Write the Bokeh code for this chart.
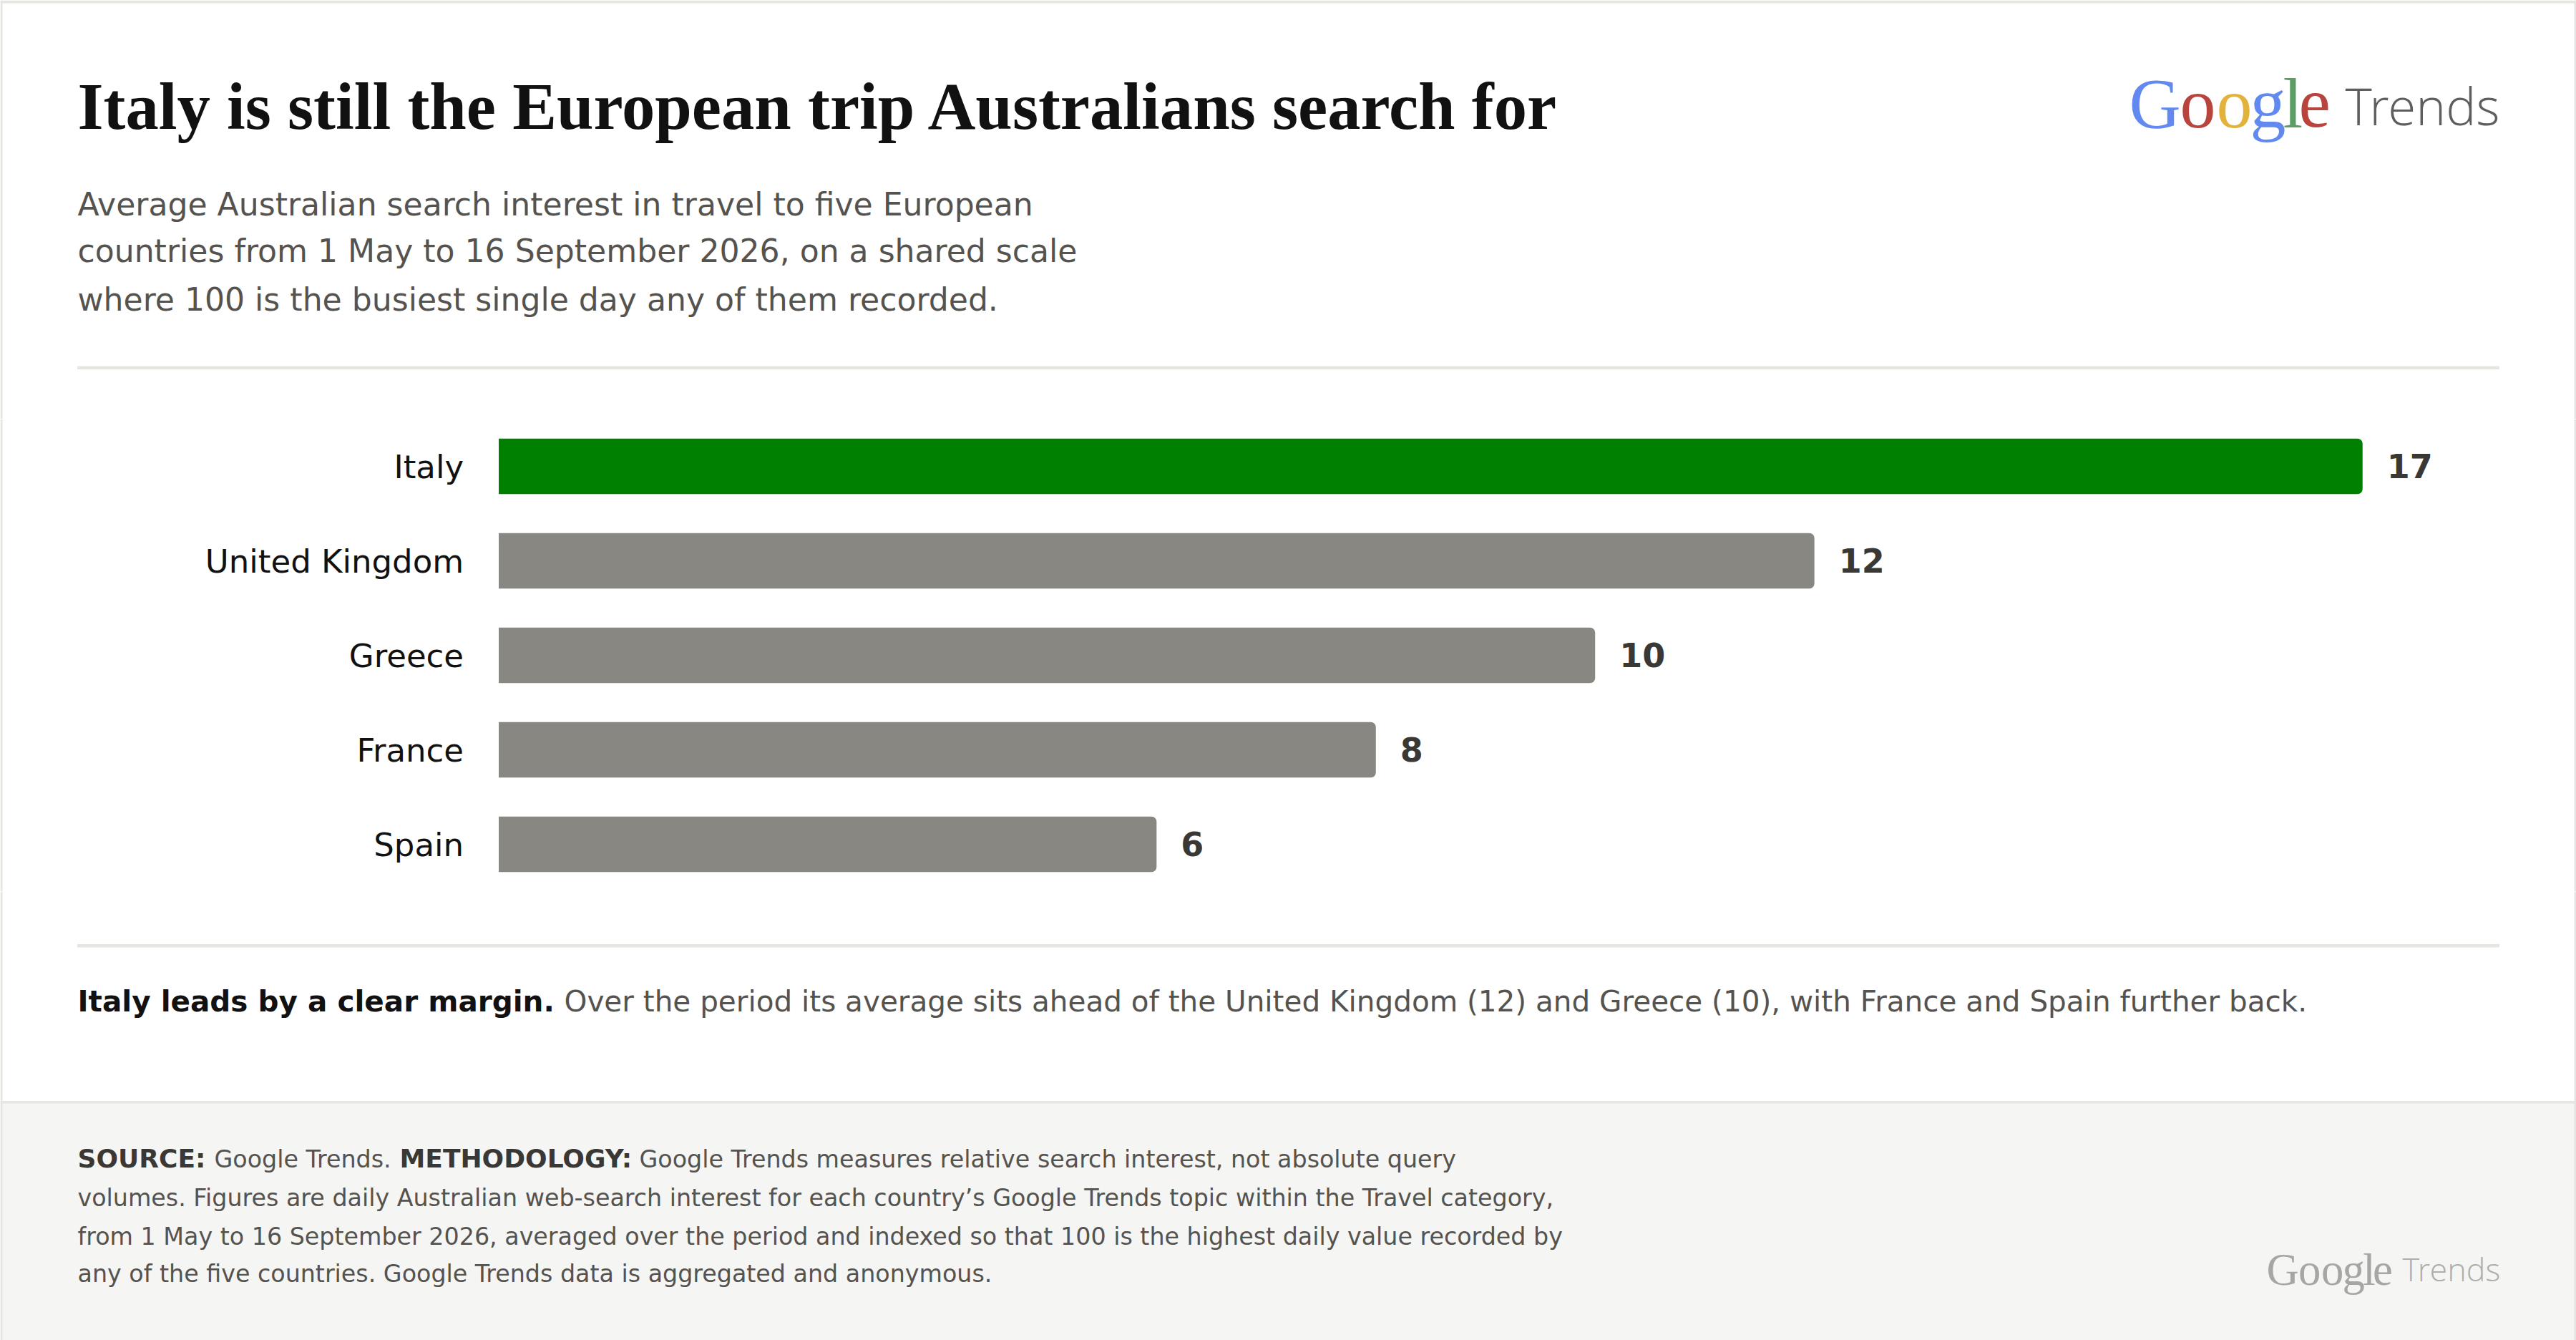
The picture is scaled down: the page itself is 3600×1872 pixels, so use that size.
from bokeh.core.properties import value
from bokeh.embed import file_html
from bokeh.layouts import column
from bokeh.models import ColumnDataSource, FactorRange, Range1d
from bokeh.plotting import figure
from bokeh.resources import INLINE

countries = ["Italy", "United Kingdom", "Greece", "France", "Spain"]
interest = [17, 12, 10, 8, 6]
bar_colors = ["#008000", "#898781", "#898781", "#898781", "#898781"]

title = "Italy is still the European trip Australians search for"
subtitle = [
    "Average Australian search interest in travel to five European",
    "countries from 1 May to 16 September 2026, on a shared scale",
    "where 100 is the busiest single day any of them recorded.",
]
finding_bold = "Italy leads by a clear margin."
finding = "Over the period its average sits ahead of the United Kingdom (12) and Greece (10), with France and Spain further back."
footer_lines = [
    "volumes. Figures are daily Australian web-search interest for each country\u2019s Google Trends topic within the Travel category,",
    "from 1 May to 16 September 2026, averaged over the period and indexed so that 100 is the highest daily value recorded by",
    "any of the five countries. Google Trends data is aggregated and anonymous.",
]

SANS = "DejaVu Sans"
SERIF = "Liberation Serif"
RULE = "#e6e6e1"

logo_letters = list("Google")
logo_advance = [0.71, 0.51, 0.47, 0.46, 0.22, 0.44]
logo_colors = ["#6189f0", "#b9443e", "#e3b23c", "#6189f0", "#5a9e63", "#b9443e"]


def put_text(p, x, y, text, size, color, font=SANS, style="normal"):
    # svg text lands about 0.35 of its size below the asked baseline
    p.text(x=[x], y=[y - 0.35 * size], text=[text], text_font=value(font), text_font_size=f"{size}px",
           text_font_style=style, text_color=color, text_baseline="alphabetic")


def put_logo(p, x, y, size, colors, word_x, word_y, word_size, word_color):
    for letter, advance, color in zip(logo_letters, logo_advance, colors):
        put_text(p, x, y, letter, size, color, SERIF)
        x += advance * size
    put_text(p, word_x, word_y, "Trends", word_size, word_color, "Open Sans Light")


def panel(height, y_start):
    p = figure(width=3600, height=height, x_range=Range1d(0, 3600),
               y_range=Range1d(y_start + height, y_start), x_axis_location=None, y_axis_location=None,
               output_backend="svg", toolbar_location=None, min_border=0, outline_line_color=None)
    p.grid.visible = False
    return p


# header
head = panel(585, 0)
put_text(head, 108, 180, title, 92.7, "#111111", SERIF, "bold")
for line, y in zip(subtitle, [300.5, 365.5, 433]):
    put_text(head, 108, y, line, 44.1, "#55534f")
put_logo(head, 2975, 179, 100, logo_colors, 3277, 172, 71, "#5e5e5e")
head.quad(left=[108], right=[3492], top=[511.5], bottom=[515], color=RULE)
head.quad(left=[0], right=[3600], top=[0], bottom=[4], color=RULE, line_color=None)
head.quad(left=[0, 3597], right=[3, 3600], top=[0, 0], bottom=[585, 585], color=RULE, line_color=None)

# bars: the frame fills the page width, so 0 and 17 sit where the picture has them
x_start, x_end = -4.546, 18.95
px = (x_end - x_start) / 3600
source = ColumnDataSource(dict(country=countries, interest=interest, color=bar_colors,
                               zero=[0] * len(countries), label=[str(v) for v in interest]))
chart = figure(width=3600, height=660, x_range=Range1d(x_start, x_end), y_range=FactorRange(*reversed(countries)),
               x_axis_location=None, y_axis_location=None,
               output_backend="svg", toolbar_location=None, min_border=0, outline_line_color=None)
chart.grid.visible = False
chart.hbar(y="country", right="interest", height=0.586, source=source, fill_color="color", line_color=None,
           border_radius=(0, 7, 7, 0))
chart.text(x="interest", y="country", text="label", source=source, x_offset=34, y_offset=-0.5, text_baseline="middle",
           text_font=value(SANS), text_font_size="46px", text_font_style="bold", text_color="#3a3835")
chart.text(x="zero", y="country", text="country", source=source, x_offset=-49, y_offset=1, text_align="right",
           text_baseline="middle", text_font=value(SANS), text_font_size="45px", text_color="#111111")
chart.hbar(y=[countries[2]] * 2, left=[x_start, x_end - 3 * px], right=[x_start + 3 * px, x_end], height=6,
           color=RULE, line_color=None)

# finding and methodology
foot = panel(627, 1245)
foot.quad(left=[108], right=[3492], top=[1319], bottom=[1322.5], color=RULE)
put_text(foot, 108, 1413, finding_bold, 40.5, "#111111", SANS, "bold")
put_text(foot, 788, 1413, finding, 40.5, "#55534f")
foot.quad(left=[0], right=[3600], top=[1537.5], bottom=[1872], color="#f5f5f3", line_color=None)
foot.quad(left=[0], right=[3600], top=[1537.5], bottom=[1541], color=RULE, line_color=None)
foot.quad(left=[0, 3597], right=[3, 3600], top=[1245, 1245], bottom=[1872, 1872], color=RULE, line_color=None)
put_text(foot, 108, 1631, "SOURCE:", 36, "#3a3835", SANS, "bold")
put_text(foot, 299, 1631, "Google Trends.", 33.3, "#55534f")
put_text(foot, 558, 1631, "METHODOLOGY:", 36, "#3a3835", SANS, "bold")
put_text(foot, 893, 1631, "Google Trends measures relative search interest, not absolute query", 33.3, "#55534f")
for line, y in zip(footer_lines, [1685, 1739, 1791]):
    put_text(foot, 108, y, line, 33.3, "#55534f")
put_logo(foot, 3167, 1795, 62.7, ["#a6a6a3"] * 6, 3357, 1788, 45, "#aeaeab")

page = column(head, chart, foot, spacing=0)

open("out.html", "w").write(file_html(page, INLINE))
